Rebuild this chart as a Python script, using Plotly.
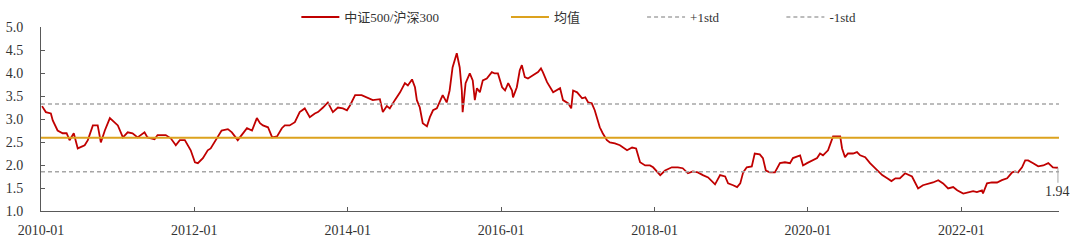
import plotly.graph_objects as go

# ---- data ----
dates = [
    "2010-01-06", "2010-01-24", "2010-02-17", "2010-02-26", "2010-03-21", "2010-04-14", "2010-05-03",
    "2010-05-17", "2010-06-06", "2010-06-25", "2010-07-28", "2010-08-12", "2010-09-05", "2010-09-28",
    "2010-10-13", "2010-11-01", "2010-11-25", "2010-12-19", "2011-01-02", "2011-01-26", "2011-02-18",
    "2011-03-13", "2011-04-06", "2011-05-09", "2011-05-23", "2011-06-26", "2011-07-10", "2011-08-18",
    "2011-09-11", "2011-10-05", "2011-10-24", "2011-11-17", "2011-12-15", "2012-01-04", "2012-01-18",
    "2012-02-11", "2012-03-05", "2012-03-19", "2012-04-12", "2012-05-10", "2012-06-09", "2012-06-28",
    "2012-07-26", "2012-08-19", "2012-09-08", "2012-10-02", "2012-10-25", "2012-11-09", "2012-11-23",
    "2012-12-17", "2013-01-06", "2013-01-29", "2013-02-21", "2013-03-07", "2013-03-30", "2013-04-24",
    "2013-05-17", "2013-06-10", "2013-07-04", "2013-07-28", "2013-08-12", "2013-09-05", "2013-09-28",
    "2013-10-22", "2013-11-15", "2013-12-09", "2013-12-28", "2014-01-12", "2014-02-05", "2014-03-08",
    "2014-04-02", "2014-04-30", "2014-06-03", "2014-06-17", "2014-07-06", "2014-07-20", "2014-08-13",
    "2014-09-07", "2014-09-30", "2014-10-14", "2014-11-03", "2014-11-17", "2014-11-26", "2014-12-10",
    "2014-12-24", "2015-01-13", "2015-01-27", "2015-02-11", "2015-03-01", "2015-03-15", "2015-03-29",
    "2015-04-17", "2015-05-01", "2015-05-15", "2015-06-04", "2015-06-18", "2015-06-28", "2015-07-02",
    "2015-07-16", "2015-08-05", "2015-08-19", "2015-08-29", "2015-09-08", "2015-09-22", "2015-10-06",
    "2015-10-25", "2015-11-18", "2015-12-02", "2015-12-17", "2016-01-06", "2016-01-20", "2016-02-04",
    "2016-02-22", "2016-02-27", "2016-03-16", "2016-03-30", "2016-04-09", "2016-04-23", "2016-05-08",
    "2016-06-01", "2016-06-25", "2016-07-09", "2016-07-18", "2016-08-07", "2016-08-21", "2016-09-05",
    "2016-10-08", "2016-10-22", "2016-11-16", "2016-11-30", "2016-12-09", "2016-12-28", "2017-01-21",
    "2017-02-05", "2017-02-19", "2017-03-08", "2017-03-22", "2017-04-01", "2017-04-15", "2017-04-29",
    "2017-05-19", "2017-06-02", "2017-06-26", "2017-07-20", "2017-08-23", "2017-09-16", "2017-10-05",
    "2017-10-24", "2017-11-17", "2017-12-10", "2017-12-25", "2018-01-28", "2018-02-20", "2018-03-24",
    "2018-04-22", "2018-05-15", "2018-06-09", "2018-07-02", "2018-07-26", "2018-08-19", "2018-09-13",
    "2018-10-16", "2018-11-09", "2018-12-03", "2018-12-17", "2019-01-10", "2019-01-29", "2019-02-13",
    "2019-02-27", "2019-03-16", "2019-04-09", "2019-04-23", "2019-05-17", "2019-06-01", "2019-06-15",
    "2019-07-04", "2019-07-28", "2019-08-21", "2019-09-14", "2019-10-08", "2019-10-22", "2019-11-25",
    "2019-12-09", "2019-12-28", "2020-01-21", "2020-02-14", "2020-02-28", "2020-03-13", "2020-04-06",
    "2020-04-25", "2020-04-30", "2020-06-03", "2020-06-12", "2020-06-26", "2020-07-10", "2020-08-03",
    "2020-08-22", "2020-09-06", "2020-09-30", "2020-10-23", "2020-11-17", "2020-12-01", "2020-12-20",
    "2021-01-13", "2021-02-02", "2021-02-21", "2021-03-14", "2021-04-08", "2021-05-11", "2021-06-09",
    "2021-07-02", "2021-08-19", "2021-09-13", "2021-10-06", "2021-10-30", "2021-11-23", "2021-12-12",
    "2022-01-10", "2022-02-03", "2022-02-26", "2022-03-16", "2022-04-09", "2022-04-14", "2022-05-03",
    "2022-05-26", "2022-06-20", "2022-07-13", "2022-08-07", "2022-08-31", "2022-09-14", "2022-09-28",
    "2022-10-17", "2022-11-01", "2022-11-15", "2022-12-09", "2023-01-02", "2023-01-26", "2023-02-19",
    "2023-03-13", "2023-04-06",
]
ratio = [
    3.28, 3.15, 3.12, 2.97, 2.75, 2.69, 2.69,
    2.54, 2.69, 2.36, 2.43, 2.54, 2.86, 2.86,
    2.49, 2.75, 3.02, 2.93, 2.86, 2.60, 2.71,
    2.69, 2.60, 2.71, 2.60, 2.56, 2.65, 2.65,
    2.58, 2.43, 2.54, 2.54, 2.32, 2.06, 2.04,
    2.15, 2.32, 2.36, 2.54, 2.75, 2.78, 2.71,
    2.54, 2.69, 2.80, 2.75, 3.02, 2.91, 2.86,
    2.82, 2.60, 2.62, 2.80, 2.86, 2.86, 2.93,
    3.15, 3.23, 3.04, 3.12, 3.15, 3.25, 3.36,
    3.15, 3.25, 3.23, 3.19, 3.30, 3.52, 3.52,
    3.47, 3.41, 3.43, 3.15, 3.28, 3.23, 3.41,
    3.58, 3.78, 3.73, 3.86, 3.69, 3.41, 3.25,
    2.91, 2.84, 3.04, 3.19, 3.23, 3.36, 3.52,
    3.36, 3.62, 4.12, 4.43, 4.12, 3.62, 3.15,
    3.78, 3.99, 3.84, 3.41, 3.67, 3.58, 3.84,
    3.88, 4.02, 3.99, 3.99, 3.69, 3.62, 3.78,
    3.62, 3.47, 3.69, 4.06, 4.17, 3.91, 3.88,
    3.95, 4.02, 4.10, 4.02, 3.80, 3.69, 3.58,
    3.67, 3.41, 3.34, 3.23, 3.62, 3.58, 3.45,
    3.47, 3.36, 3.34, 3.19, 3.02, 2.82, 2.69,
    2.54, 2.49, 2.47, 2.43, 2.32, 2.38, 2.36,
    2.06, 1.99, 1.99, 1.95, 1.78, 1.88, 1.95,
    1.95, 1.93, 1.82, 1.86, 1.84, 1.78, 1.73,
    1.58, 1.78, 1.75, 1.60, 1.56, 1.52, 1.60,
    1.84, 1.95, 1.97, 2.25, 2.23, 2.15, 1.88,
    1.84, 1.84, 2.04, 2.06, 2.04, 2.15, 2.21,
    1.99, 2.04, 2.10, 2.15, 2.25, 2.21, 2.32,
    2.54, 2.62, 2.62, 2.36, 2.17, 2.25, 2.25,
    2.28, 2.21, 2.17, 2.04, 1.93, 1.88, 1.78,
    1.71, 1.65, 1.71, 1.71, 1.82, 1.75, 1.49,
    1.56, 1.62, 1.67, 1.60, 1.49, 1.52, 1.45,
    1.38, 1.41, 1.43, 1.41, 1.45, 1.38, 1.60,
    1.62, 1.62, 1.67, 1.71, 1.84, 1.86, 1.84,
    1.95, 2.10, 2.10, 2.04, 1.97, 1.99, 2.04,
    1.95, 1.94,
]
mean_val = 2.59
std_val = 0.735
x_range = ["2010-01-01", "2023-04-11"]
x_ticks = ["2010-01-01", "2012-01-01", "2014-01-01", "2016-01-01",
           "2018-01-01", "2020-01-01", "2022-01-01"]
y_ticks = [1.0, 1.5, 2.0, 2.5, 3.0, 3.5, 4.0, 4.5, 5.0]
names = ["中证500/沪深300", "均值", "+1std", "-1std"]

FONT = "Liberation Serif, Times New Roman, Noto Sans CJK SC, serif"
TXT = "#333333"
RED = "#C00000"
GOLD = "#DCA21E"
GRAY = "#A6A6A6"

fig = go.Figure()
fig.add_trace(go.Scatter(x=dates, y=ratio, mode="lines", name=names[0],
                         line=dict(color=RED, width=1.8), legend="legend"))
fig.add_trace(go.Scatter(x=x_range, y=[mean_val, mean_val], mode="lines", name=names[1],
                         line=dict(color=GOLD, width=2), legend="legend2"))
fig.add_trace(go.Scatter(x=x_range, y=[mean_val + std_val] * 2, mode="lines", name=names[2],
                         line=dict(color=GRAY, width=1.5, dash="4px,3px"), legend="legend3"))
fig.add_trace(go.Scatter(x=x_range, y=[mean_val - std_val] * 2, mode="lines", name=names[3],
                         line=dict(color=GRAY, width=1.5, dash="4px,3px"), legend="legend4"))

leg_common = dict(orientation="h", yref="container", xref="container",
                  yanchor="middle", y=0.929, xanchor="left",
                  font=dict(family=FONT, size=13, color=TXT), itemwidth=38,
                  bgcolor="rgba(0,0,0,0)", borderwidth=0)

fig.add_annotation(x=dates[-1], y=ratio[-1], text=f"{ratio[-1]:.2f}", showarrow=True,
                   arrowhead=0, arrowwidth=1, arrowcolor=GRAY, ax=0, ay=24,
                   font=dict(family=FONT, size=14, color=TXT))

fig.update_layout(
    width=1080, height=240,
    margin=dict(l=41, r=21, t=27, b=29, autoexpand=False),
    paper_bgcolor="white", plot_bgcolor="white",
    font=dict(family=FONT, size=14, color=TXT),
    legend=dict(leg_common, x=0.2744),
    legend2=dict(leg_common, x=0.4685),
    legend3=dict(leg_common, x=0.5945),
    legend4=dict(leg_common, x=0.7235),
    xaxis=dict(type="date", range=x_range, tickvals=x_ticks, tickformat="%Y-%m",
               showgrid=False, zeroline=False, showline=True, linecolor="#595959",
               linewidth=1, ticks="inside", ticklen=4, tickcolor="#595959",
               ticklabelstandoff=6,
               tickfont=dict(family=FONT, size=14, color=TXT)),
    yaxis=dict(range=[1, 5], tickvals=y_ticks, tickformat=".1f",
               showgrid=False, zeroline=False, showline=True, linecolor="#595959",
               linewidth=1, ticks="inside", ticklen=4, tickcolor="#595959",
               ticklabelstandoff=14,
               tickfont=dict(family=FONT, size=14, color=TXT)),
    showlegend=True,
)

fig.write_html("out.html")
